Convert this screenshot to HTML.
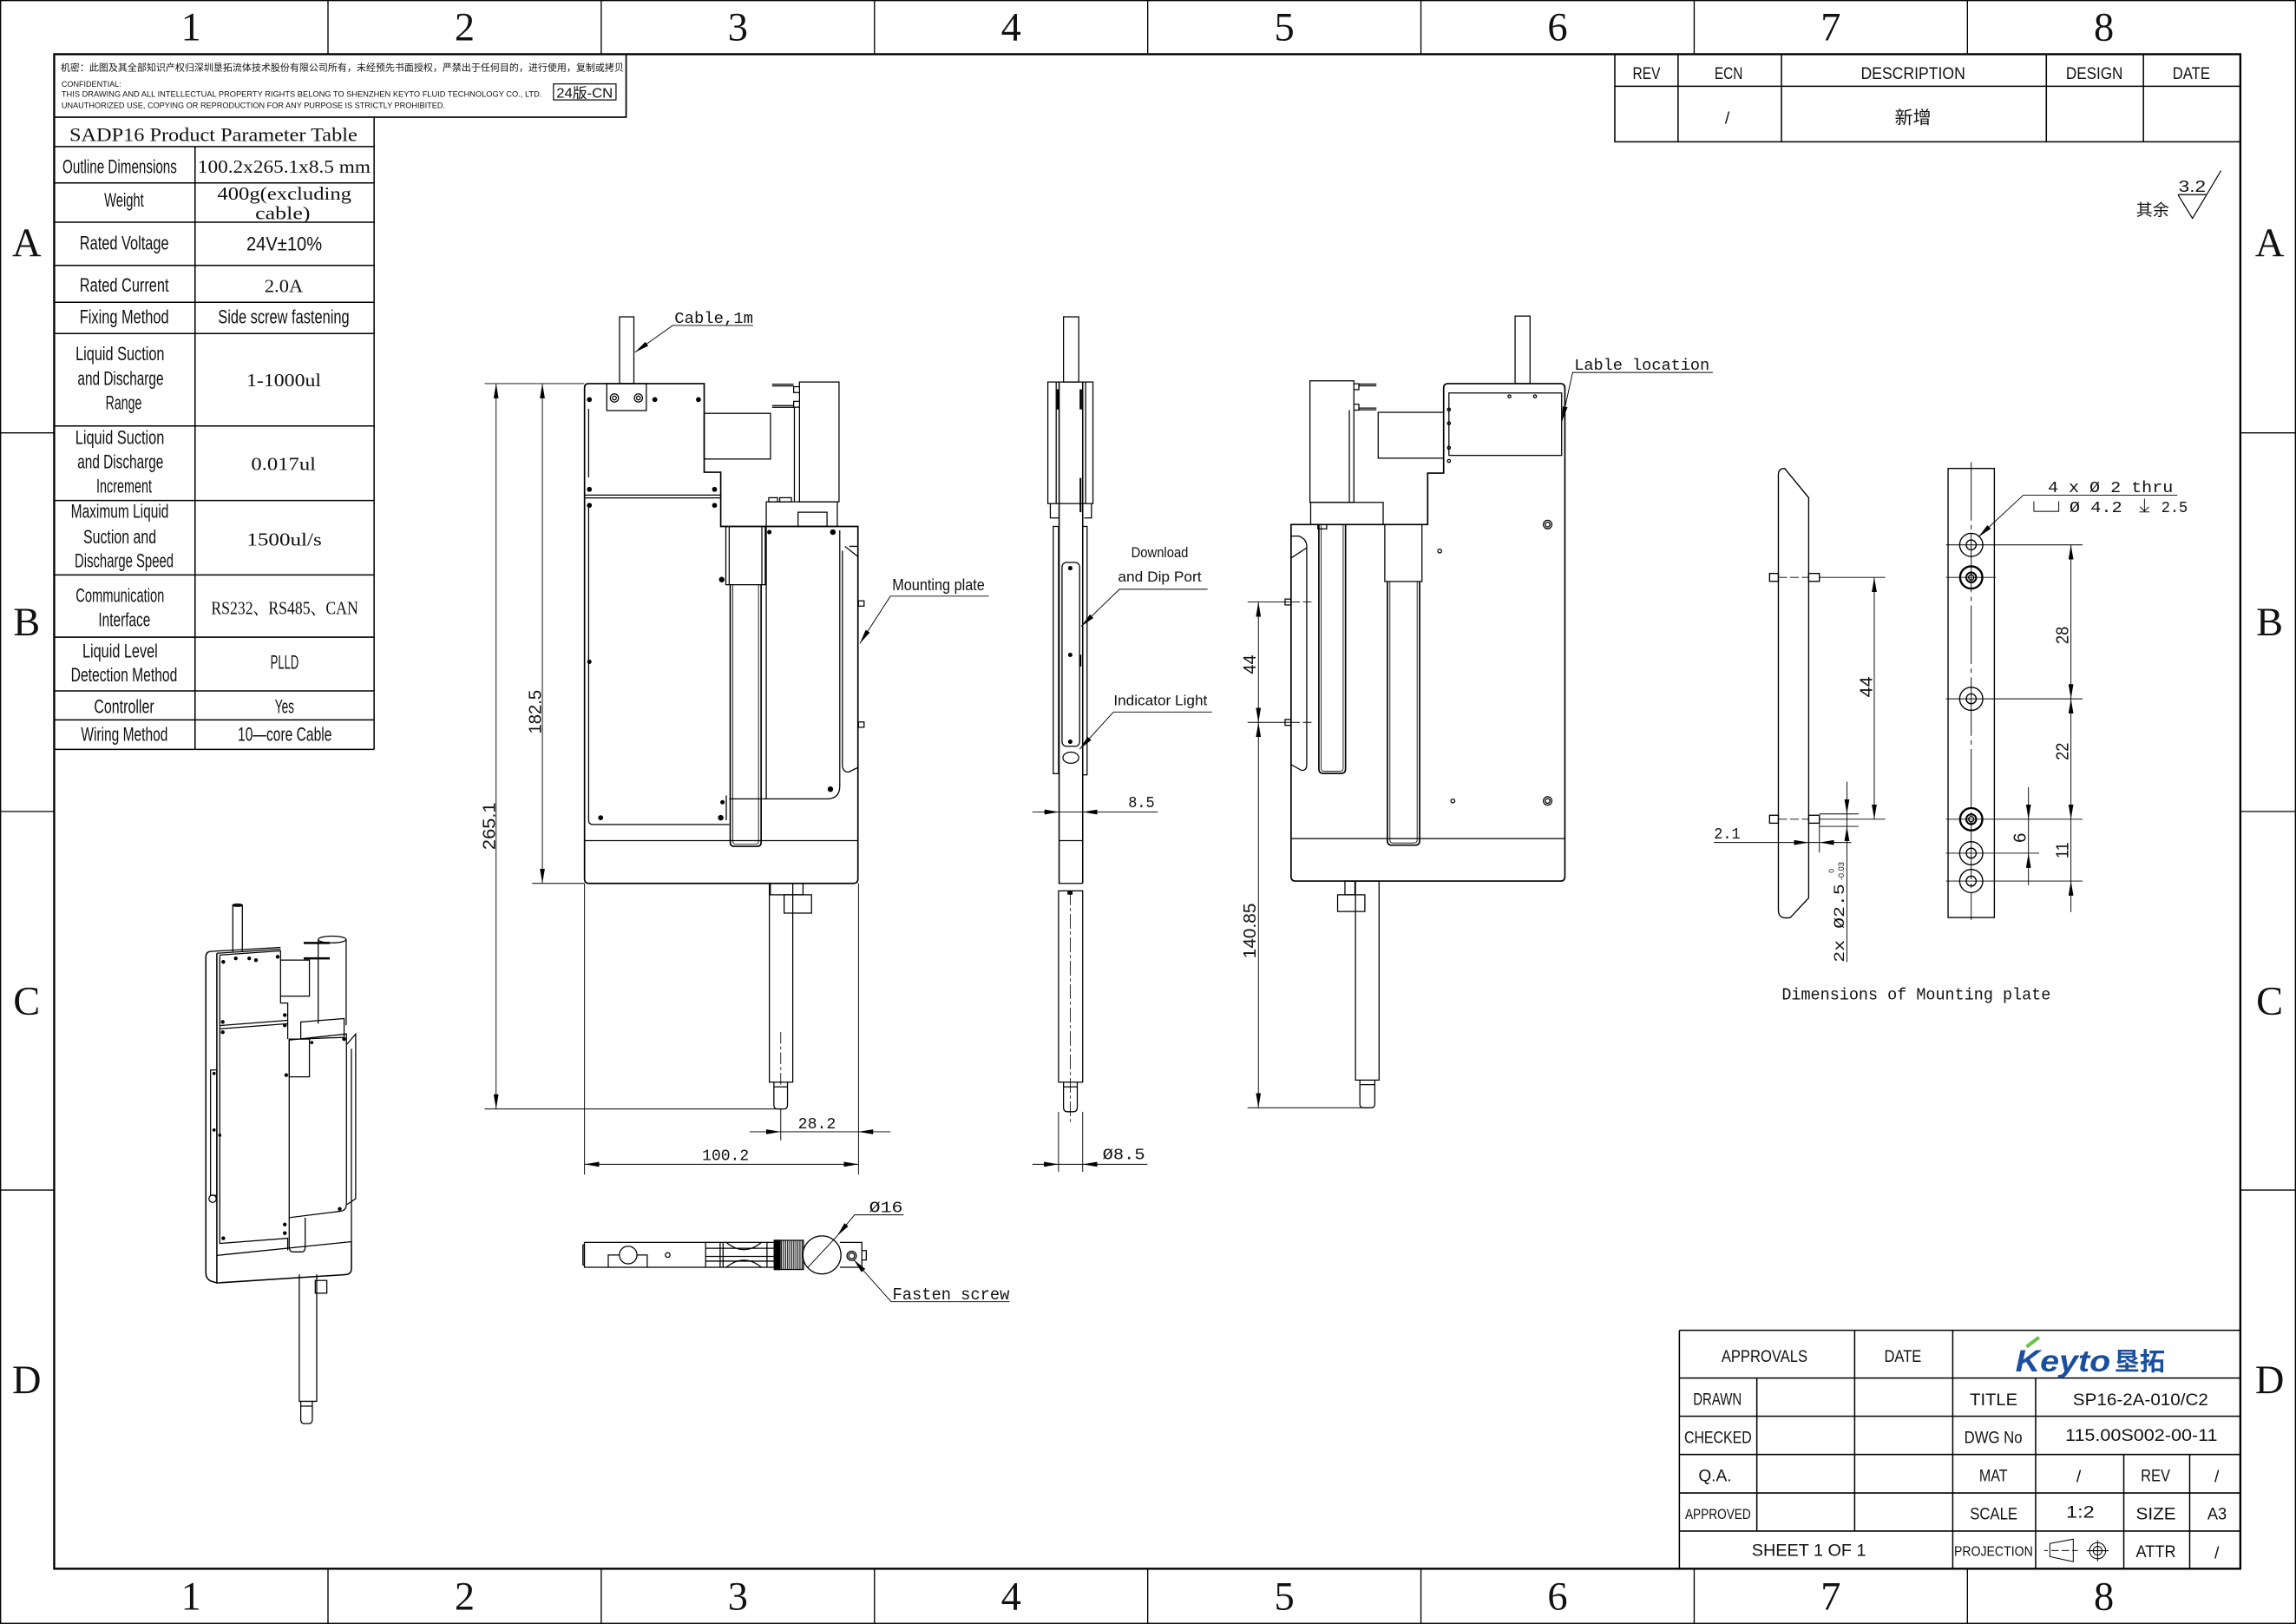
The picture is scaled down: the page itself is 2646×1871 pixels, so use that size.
<!DOCTYPE html>
<html><head><meta charset="utf-8"><style>
html,body{margin:0;padding:0;background:#fff;}
svg{display:block;}
.s{font-family:"Liberation Sans","Noto Sans CJK SC",sans-serif;}
.m{font-family:"Liberation Mono","Noto Sans CJK SC",monospace;}
.r{font-family:"Liberation Serif","Noto Serif CJK SC",serif;}
text{fill:#111;}
</style></head><body>
<svg xmlns="http://www.w3.org/2000/svg" width="2646" height="1871" viewBox="0 0 1568 1108.74" preserveAspectRatio="none">
<defs>
<marker id="a" markerUnits="userSpaceOnUse" markerWidth="10" markerHeight="3.4" refX="10" refY="1.7" orient="auto-start-reverse"><path d="M0,0L10,1.7L0,3.4z" fill="#000"/></marker>
<pattern id="kn" width="1.4" height="4" patternUnits="userSpaceOnUse"><rect width="0.65" height="4" fill="#000"/></pattern>
</defs>
<rect width="1568" height="1108.74" fill="#fff"/>

<!-- FRAME -->
<g fill="none" stroke="#000">
<rect x="0.4" y="0.4" width="1567.2" height="1107.9" stroke-width="0.8"/>
<rect x="37" y="37" width="1493" height="1034" stroke-width="1.4"/>
<path stroke-width="0.8" d="M224,0V37M410.6,0V37M597.2,0V37M783.8,0V37M970.4,0V37M1157,0V37M1343.6,0V37M224,1071V1108.7M410.6,1071V1108.7M597.2,1071V1108.7M783.8,1071V1108.7M970.4,1071V1108.7M1157,1071V1108.7M1343.6,1071V1108.7M0,295.5H37M0,554H37M0,812.5H37M1530,295.5H1568M1530,554H1568M1530,812.5H1568"/>
</g>
<g class="r" font-size="27.5" text-anchor="middle">
<text x="130.5" y="27.7">1</text><text x="317.3" y="27.7">2</text><text x="503.9" y="27.7">3</text><text x="690.5" y="27.7">4</text><text x="877.1" y="27.7">5</text><text x="1063.7" y="27.7">6</text><text x="1250.3" y="27.7">7</text><text x="1436.8" y="27.7">8</text>
<text x="130.5" y="1099">1</text><text x="317.3" y="1099">2</text><text x="503.9" y="1099">3</text><text x="690.5" y="1099">4</text><text x="877.1" y="1099">5</text><text x="1063.7" y="1099">6</text><text x="1250.3" y="1099">7</text><text x="1436.8" y="1099">8</text>
<text x="18.2" y="174.8">A</text><text x="18.2" y="433.8">B</text><text x="18.2" y="692.3">C</text><text x="18.2" y="951">D</text>
<text x="1550" y="174.8">A</text><text x="1550" y="433.8">B</text><text x="1550" y="692.3">C</text><text x="1550" y="951">D</text>
</g>

<!-- CONFIDENTIAL BOX -->
<rect x="37" y="37" width="390.6" height="43" fill="none" stroke="#000" stroke-width="1"/>
<text x="41.4" y="48.4" class="s" font-size="6.4" textLength="384.6" lengthAdjust="spacingAndGlyphs">机密：此图及其全部知识产权归深圳垦拓流体技术股份有限公司所有，未经预先书面授权，严禁出于任何目的，进行使用，复制或拷贝</text>
<text x="42" y="59.3" class="s" font-size="5.6" textLength="40.8" lengthAdjust="spacingAndGlyphs">CONFIDENTIAL:</text>
<text x="42" y="66.2" class="s" font-size="5.6" textLength="328" lengthAdjust="spacingAndGlyphs">THIS DRAWING AND ALL INTELLECTUAL PROPERTY RIGHTS BELONG TO SHENZHEN KEYTO FLUID TECHNOLOGY CO., LTD.</text>
<text x="42" y="73.7" class="s" font-size="5.6" textLength="262" lengthAdjust="spacingAndGlyphs">UNAUTHORIZED USE, COPYING OR REPRODUCTION FOR ANY PURPOSE IS STRICTLY PROHIBITED.</text>
<rect x="378" y="57.3" width="42.7" height="10.9" fill="none" stroke="#000" stroke-width="0.7"/>
<text x="380" y="66.8" class="s" font-size="9.5" textLength="38.5" lengthAdjust="spacingAndGlyphs">24版-CN</text>

<!-- PARAMETER TABLE -->
<g fill="none" stroke="#000" stroke-width="0.9">
<path d="M37,100.1H255.5M37,124.9H255.5M37,151.7H255.5M37,181.2H255.5M37,206.4H255.5M37,227.7H255.5M37,290.8H255.5M37,341.7H255.5M37,392.5H255.5M37,435H255.5M37,471.7H255.5M37,491.5H255.5M37,511.6H255.5M255.5,80V511.6M133.2,100.1V511.6"/>
</g>
<text x="47.4" y="96.4" class="r" font-size="13" textLength="196.6" lengthAdjust="spacingAndGlyphs">SADP16 Product Parameter Table</text>
<g class="s" font-size="13.2">
<text x="42.7" y="118.1" textLength="78.1" lengthAdjust="spacingAndGlyphs">Outline Dimensions</text>
<text x="71.2" y="141" textLength="27" lengthAdjust="spacingAndGlyphs">Weight</text>
<text x="54.4" y="170.3" textLength="60.9" lengthAdjust="spacingAndGlyphs">Rated Voltage</text>
<text x="54.4" y="199.1" textLength="60.9" lengthAdjust="spacingAndGlyphs">Rated Current</text>
<text x="54.4" y="220.8" textLength="60.9" lengthAdjust="spacingAndGlyphs">Fixing Method</text>
<text x="51.6" y="245.9" textLength="60.7" lengthAdjust="spacingAndGlyphs">Liquid Suction</text>
<text x="53" y="262.7" textLength="58.7" lengthAdjust="spacingAndGlyphs">and Discharge</text>
<text x="72.1" y="279.5" textLength="24.7" lengthAdjust="spacingAndGlyphs">Range</text>
<text x="51.4" y="303.2" textLength="60.8" lengthAdjust="spacingAndGlyphs">Liquid Suction</text>
<text x="52.9" y="319.6" textLength="58.7" lengthAdjust="spacingAndGlyphs">and Discharge</text>
<text x="65.8" y="336.4" textLength="37.9" lengthAdjust="spacingAndGlyphs">Increment</text>
<text x="48.4" y="353.6" textLength="66.8" lengthAdjust="spacingAndGlyphs">Maximum Liquid</text>
<text x="56.9" y="371" textLength="49.8" lengthAdjust="spacingAndGlyphs">Suction and</text>
<text x="51" y="387.2" textLength="67.5" lengthAdjust="spacingAndGlyphs">Discharge Speed</text>
<text x="51.7" y="410.9" textLength="60.5" lengthAdjust="spacingAndGlyphs">Communication</text>
<text x="67.2" y="427.7" textLength="35.5" lengthAdjust="spacingAndGlyphs">Interface</text>
<text x="56.3" y="448.8" textLength="51.4" lengthAdjust="spacingAndGlyphs">Liquid Level</text>
<text x="48.4" y="465.2" textLength="72.7" lengthAdjust="spacingAndGlyphs">Detection Method</text>
<text x="64.2" y="486.9" textLength="41.1" lengthAdjust="spacingAndGlyphs">Controller</text>
<text x="55.3" y="505.7" textLength="59.3" lengthAdjust="spacingAndGlyphs">Wiring Method</text>
<text x="168.3" y="170.9" textLength="51.6" lengthAdjust="spacingAndGlyphs">24V±10%</text>
<text x="148.9" y="220.8" textLength="89.7" lengthAdjust="spacingAndGlyphs">Side screw fastening</text>
<text x="184.7" y="456.7" textLength="19.3" lengthAdjust="spacingAndGlyphs">PLLD</text>
<text x="187.7" y="486.9" textLength="13.2" lengthAdjust="spacingAndGlyphs">Yes</text>
<text x="162.4" y="505.7" textLength="64.2" lengthAdjust="spacingAndGlyphs">10—core Cable</text>
</g>
<g class="r" font-size="12.8">
<text x="135" y="118" textLength="118" lengthAdjust="spacingAndGlyphs">100.2x265.1x8.5 mm</text>
<text x="148.4" y="136.3" textLength="91.6" lengthAdjust="spacingAndGlyphs">400g(excluding</text>
<text x="174.3" y="149.5" textLength="37.6" lengthAdjust="spacingAndGlyphs">cable)</text>
<text x="180.7" y="199.5" textLength="26.2" lengthAdjust="spacingAndGlyphs">2.0A</text>
<text x="168.3" y="263.7" textLength="51" lengthAdjust="spacingAndGlyphs">1-1000ul</text>
<text x="171.5" y="321" textLength="44.2" lengthAdjust="spacingAndGlyphs">0.017ul</text>
<text x="168.5" y="372.3" textLength="51.2" lengthAdjust="spacingAndGlyphs">1500ul/s</text>
<text x="144.2" y="419.4" textLength="100.4" lengthAdjust="spacingAndGlyphs">RS232、RS485、CAN</text>
</g>

<!-- REVISION TABLE -->
<g fill="none" stroke="#000" stroke-width="0.9">
<path d="M1102.8,37V96.8H1530M1102.8,58.9H1530M1146,37V96.8M1216.6,37V96.8M1397.5,37V96.8M1463.8,37V96.8"/>
</g>
<g class="s" font-size="11.5">
<text x="1115" y="53.9" textLength="18.9" lengthAdjust="spacingAndGlyphs">REV</text>
<text x="1170.9" y="53.9" textLength="19.2" lengthAdjust="spacingAndGlyphs">ECN</text>
<text x="1270.8" y="53.9" textLength="71.3" lengthAdjust="spacingAndGlyphs">DESCRIPTION</text>
<text x="1410.9" y="53.9" textLength="38.8" lengthAdjust="spacingAndGlyphs">DESIGN</text>
<text x="1483.7" y="53.9" textLength="25.6" lengthAdjust="spacingAndGlyphs">DATE</text>
<text x="1178" y="84.3">/</text>
<text x="1293.9" y="84.3" font-size="12" textLength="25" lengthAdjust="spacingAndGlyphs">新增</text>
</g>
<!-- roughness -->
<path d="M1487.4,132.9H1507M1487.4,132.9L1497.3,149.1L1516.8,116.5" fill="none" stroke="#000" stroke-width="0.7"/>
<text x="1487.8" y="131" class="s" font-size="11" textLength="18.6" lengthAdjust="spacingAndGlyphs">3.2</text>
<text x="1458.8" y="147.2" class="s" font-size="11" textLength="22.5" lengthAdjust="spacingAndGlyphs">其余</text>

<!-- TITLE BLOCK -->
<g fill="none" stroke="#000" stroke-width="0.9">
<path d="M1146.9,908.2H1530M1146.9,940.8H1530M1146.9,966.9H1530M1146.9,993H1530M1146.9,1019.3H1530M1146.9,1045.3H1530M1146.9,908.2V1071M1199.8,940.8V1045.3M1266.6,908.2V1045.3M1333.6,908.2V1071M1390.2,940.8V1071M1450.4,993V1071M1495.4,993V1071"/>
</g>
<g class="s" font-size="11.5">
<text x="1175.6" y="929.9" textLength="58.8" lengthAdjust="spacingAndGlyphs">APPROVALS</text>
<text x="1286.8" y="929.9" textLength="25.4" lengthAdjust="spacingAndGlyphs">DATE</text>
<text x="1156.3" y="959" textLength="33.1" lengthAdjust="spacingAndGlyphs">DRAWN</text>
<text x="1150.2" y="985.2" textLength="46.1" lengthAdjust="spacingAndGlyphs">CHECKED</text>
<text x="1159.9" y="1011.3" textLength="22.6" lengthAdjust="spacingAndGlyphs">Q.A.</text>
<text x="1150.8" y="1037" font-size="10" textLength="44.9" lengthAdjust="spacingAndGlyphs">APPROVED</text>
<text x="1196.3" y="1062.3" textLength="78.1" lengthAdjust="spacingAndGlyphs">SHEET 1 OF 1</text>
<text x="1345.3" y="959.4" textLength="32.5" lengthAdjust="spacingAndGlyphs">TITLE</text>
<text x="1341.4" y="985.2" textLength="39.7" lengthAdjust="spacingAndGlyphs">DWG No</text>
<text x="1351.6" y="1011.3" textLength="19.4" lengthAdjust="spacingAndGlyphs">MAT</text>
<text x="1345.3" y="1037.4" textLength="32.5" lengthAdjust="spacingAndGlyphs">SCALE</text>
<text x="1334.5" y="1062.3" font-size="9.5" textLength="53.8" lengthAdjust="spacingAndGlyphs">PROJECTION</text>
<text x="1415.6" y="959.4" textLength="92.5" lengthAdjust="spacingAndGlyphs">SP16-2A-010/C2</text>
<text x="1410.4" y="983.8" textLength="104" lengthAdjust="spacingAndGlyphs">115.00S002-00-11</text>
<text x="1418" y="1011.8">/</text>
<text x="1462" y="1011.3" textLength="20.1" lengthAdjust="spacingAndGlyphs">REV</text>
<text x="1512.3" y="1011.8">/</text>
<text x="1411" y="1036" textLength="19.3" lengthAdjust="spacingAndGlyphs">1:2</text>
<text x="1458.7" y="1037.4" textLength="27.3" lengthAdjust="spacingAndGlyphs">SIZE</text>
<text x="1507.5" y="1037.4" textLength="13.2" lengthAdjust="spacingAndGlyphs">A3</text>
<text x="1458.7" y="1063" textLength="27.3" lengthAdjust="spacingAndGlyphs">ATTR</text>
<text x="1512.3" y="1064">/</text>
</g>
<g fill="none" stroke="#000" stroke-width="0.6">
<path d="M1399.9,1053.8L1415.9,1050.8V1066.2L1399.9,1062.7Z"/>
<path d="M1396,1058.6H1398.5M1401,1058.6H1406M1408,1058.6H1413M1415,1058.6H1419" />
<circle cx="1432.5" cy="1058.7" r="5.5"/><circle cx="1432.5" cy="1058.7" r="3"/>
<path d="M1425,1058.7H1440M1432.5,1051.5V1066"/>
</g>
<text x="1376.4" y="936.3" font-family="Liberation Sans,sans-serif" font-weight="bold" font-style="italic" font-size="21" style="fill:#1b4f9c" textLength="64.9" lengthAdjust="spacingAndGlyphs">Keyto</text>
<text x="1444" y="935.5" font-family="'Noto Sans CJK SC',sans-serif" font-weight="bold" font-size="17" style="fill:#1b4f9c" textLength="34.5" lengthAdjust="spacingAndGlyphs">垦拓</text>
<path d="M1384,919.5L1392.5,913" stroke="#6cbf4a" stroke-width="2.4" fill="none"/>

<!-- FRONT VIEW -->
<g fill="none" stroke="#000" stroke-width="0.75">
<rect x="423.1" y="216.3" width="9.8" height="45.6"/>
<rect x="414.4" y="261.9" width="27" height="18.4"/>
<circle cx="419.6" cy="271.7" r="2.8"/><circle cx="419.6" cy="271.7" r="1.3"/>
<circle cx="436" cy="271.7" r="2.8"/><circle cx="436" cy="271.7" r="1.3"/>
<path stroke-width="1" d="M402,261.9H480.9V322.4H492.2V359.4H585.9V600.1Q585.9,603.1 582.9,603.1H402.2Q399.2,603.1 399.2,600.1V264.9Q399.2,261.9 402,261.9Z"/>
<path d="M585.9,359.4V373H580"/>
<path d="M399.2,573.9H585.9M399.2,339.9H492.2M399.2,338H492.2"/>
<path d="M402,279V326M402,344V560Q402,562.9 405,562.9H498"/>
<rect x="480.9" y="282.2" width="45.3" height="31.2"/>
<rect x="546" y="260.8" width="27" height="81.8"/>
<path d="M546,264H542V268H546M546,274H542V278H546"/>
<path d="M527.3,262.3H542M527.3,263.5H542M527.3,276.9H542M527.3,278.1H542M542.5,278V342.6"/>
<rect x="523.3" y="342.6" width="48.5" height="16.8"/>
<rect x="525" y="339.8" width="6" height="2.8"/><rect x="532.5" y="339.8" width="8" height="2.8"/>
<rect x="545" y="349.7" width="19.8" height="9.7"/>
<rect x="495.7" y="359.4" width="26.9" height="39.8"/>
<path d="M498,359.4V399.2M520.3,359.4V399.2"/>
<path stroke-width="1" d="M498.7,399.2V575Q498.7,577.8 501.5,577.8H517Q519.8,577.8 519.8,575V399.2"/>
<path stroke-width="0.5" d="M500.5,399.2V574.5Q500.5,576.3 502.5,576.3H516Q518,576.3 518,574.5V399.2"/>
<path d="M523.3,359.4V545.4H564.8Q573.5,545.4 573.5,536.7V362M498,545.4H523.3M496,543V560"/>
<path d="M577,373L585.9,380M575.3,376V522Q575.3,527.1 579.5,527.1L585.9,524"/>
<rect x="586.3" y="410.2" width="3.8" height="3.6"/><rect x="586.3" y="492.9" width="3.8" height="3.6"/>
<rect x="525.4" y="603.1" width="16" height="135.7"/>
<rect x="526.1" y="603.1" width="22.3" height="7.8"/>
<rect x="535.5" y="610.9" width="18.7" height="12.5"/>
<path d="M528.5,738.8V754.5Q528.5,757.1 531,757.1H535.3Q537.8,757.1 537.8,754.5V738.8M528.5,742H537.8"/>
<path stroke-width="0.5" stroke-dasharray="8 2 2 2" d="M533.2,704.5V742"/>
</g>
<g fill="#000">
<circle cx="402.5" cy="272.8" r="1.7"/><circle cx="447.2" cy="272.8" r="1.7"/><circle cx="477" cy="272.8" r="1.7"/><circle cx="402.5" cy="334.1" r="1.7"/><circle cx="488" cy="334.1" r="1.7"/><circle cx="402.5" cy="345" r="1.7"/><circle cx="488" cy="345" r="1.7"/><circle cx="492.9" cy="395.7" r="1.9"/><circle cx="402.5" cy="451.8" r="1.5"/><circle cx="493.4" cy="547.7" r="1.5"/><circle cx="410.2" cy="558.3" r="1.7"/><circle cx="492.2" cy="558.3" r="1.9"/><circle cx="525.4" cy="363.3" r="1.5"/><circle cx="568.8" cy="363.3" r="1.9"/><circle cx="567.1" cy="538.8" r="1.9"/>
</g>
<g fill="none" stroke="#000" stroke-width="0.55">
<path d="M331,261.9H399M331,757.1H534M363.4,603.1H399M399.2,603.1V801.9M586.3,603.1V801.9M533.2,757.1V778.6M533.2,772.7H586.3"/>
<line x1="338.8" y1="261.9" x2="338.8" y2="757.1" marker-start="url(#a)" marker-end="url(#a)"/>
<line x1="370.4" y1="261.9" x2="370.4" y2="603.1" marker-start="url(#a)" marker-end="url(#a)"/>
<line x1="399.2" y1="794.9" x2="586.3" y2="794.9" marker-start="url(#a)" marker-end="url(#a)"/>
<line x1="512" y1="772.7" x2="533.2" y2="772.7" marker-end="url(#a)"/>
<line x1="608.1" y1="772.7" x2="586.3" y2="772.7" marker-end="url(#a)"/>
<path d="M514.4,222.2H459.4L433.6,240.5" marker-end="url(#a)"/>
<path d="M675.3,407H608.1L587.2,439.3" marker-end="url(#a)"/>
</g>
<text transform="translate(338.2,564) rotate(-90)" class="s" font-size="12" text-anchor="middle" textLength="32.4" lengthAdjust="spacingAndGlyphs">265.1</text>
<text transform="translate(369.6,486) rotate(-90)" class="s" font-size="12" text-anchor="middle" textLength="30" lengthAdjust="spacingAndGlyphs">182.5</text>
<text x="479.5" y="792" class="m" font-size="11" textLength="32" lengthAdjust="spacingAndGlyphs">100.2</text>
<text x="545" y="770.5" class="m" font-size="11" textLength="25.8" lengthAdjust="spacingAndGlyphs">28.2</text>
<text x="460.6" y="220.5" class="m" font-size="11" textLength="53.8" lengthAdjust="spacingAndGlyphs">Cable,1m</text>
<text x="609.3" y="403" class="s" font-size="11" textLength="63.2" lengthAdjust="spacingAndGlyphs">Mounting plate</text>

<!-- SIDE VIEW -->
<g fill="none" stroke="#000" stroke-width="0.75">
<rect x="726.3" y="216.3" width="10.4" height="44.5"/>
<rect x="715.6" y="260.8" width="30.8" height="83"/>
<path d="M721.3,260.8V343.8M741.4,260.8V343.8M717.3,343.8V353.6H722.9M740.4,353.6H745.4V343.8"/>
<path stroke-width="0.9" d="M723.3,260.8V603.1M739.4,260.8V603.1"/>
<rect x="719.3" y="359.4" width="3.6" height="168.8"/>
<rect x="739.4" y="359.4" width="3" height="169.6"/>
<rect x="725.3" y="384" width="12" height="125.5" rx="3"/>
<ellipse cx="731.3" cy="517.3" rx="5.4" ry="3.8"/>
<path d="M723.3,573.9H739.4M722.9,603.1H739.4"/>
<rect x="722.9" y="608.2" width="16.5" height="130.6"/>
<path d="M726.3,738.8V756Q726.3,759 729,759H733Q735.7,759 735.7,756V738.8M726.3,742H735.7"/>
<path stroke-width="0.5" stroke-dasharray="10 2 2 2" d="M730.9,608V766.8"/>
</g>
<g fill="#000">
<circle cx="730.9" cy="387.9" r="1.5"/><circle cx="730.9" cy="447.1" r="1.5"/><circle cx="730.9" cy="506.4" r="1.5"/>
<rect x="737.3" y="326.3" width="1.2" height="23.4"/><rect x="737.3" y="447" width="1.2" height="8"/><rect x="737.3" y="265.8" width="1.6" height="13.7"/><rect x="721.6" y="265.8" width="1.6" height="13.7"/>
<rect x="729" y="608.2" width="3.5" height="2.6"/>
</g>
<g fill="none" stroke="#000" stroke-width="0.55">
<line x1="705" y1="554.4" x2="723.3" y2="554.4" marker-end="url(#a)"/>
<line x1="790.6" y1="554.4" x2="739.4" y2="554.4" marker-end="url(#a)"/>
<line x1="723.3" y1="554.4" x2="739.4" y2="554.4"/>
<path d="M722.9,759V800M739.4,759V800M722.9,794.9H739.4"/>
<line x1="705" y1="794.9" x2="722.9" y2="794.9" marker-end="url(#a)"/>
<line x1="783.6" y1="794.9" x2="739.4" y2="794.9" marker-end="url(#a)"/>
<path d="M824.7,402.3H764.5L738.4,427.6" marker-end="url(#a)"/>
<path d="M827.7,486.1H760.4L737.3,511.5" marker-end="url(#a)"/>
</g>
<text x="770.5" y="551.2" class="m" font-size="11" textLength="18" lengthAdjust="spacingAndGlyphs">8.5</text>
<text x="753" y="791.5" class="m" font-size="11" textLength="29" lengthAdjust="spacingAndGlyphs">Ø8.5</text>
<text x="772.5" y="380.5" class="s" font-size="10" textLength="39" lengthAdjust="spacingAndGlyphs">Download</text>
<text x="763.5" y="397" class="s" font-size="10" textLength="57" lengthAdjust="spacingAndGlyphs">and Dip Port</text>
<text x="760.5" y="481.5" class="s" font-size="10" textLength="64" lengthAdjust="spacingAndGlyphs">Indicator Light</text>

<!-- BACK VIEW -->
<g fill="none" stroke="#000" stroke-width="0.75">
<rect x="1034.7" y="215.8" width="10.2" height="46.1"/>
<path stroke-width="1" d="M985.9,323V264.9Q985.9,261.9 989,261.9H1065.7Q1068.7,261.9 1068.7,265V598.5Q1068.7,601.5 1065.7,601.5H884.7Q881.7,601.5 881.7,598.5V358.1H975V323Z"/>
<path d="M881.7,572.5H1068.7"/>
<rect x="989.5" y="268.3" width="77" height="42.6"/>
<rect x="941.2" y="281.5" width="44.7" height="31.3"/>
<rect x="894.6" y="260" width="30" height="83"/>
<path d="M924.6,262H928V266H924.6M924.6,276H928V280H924.6M928,262.2H940M928,263.4H940M928,278.6H940M928,279.8H940M921.5,280V343"/>
<rect x="895.1" y="343" width="49.5" height="15.1"/>
<rect x="900" y="358.1" width="6" height="3"/>
<rect x="945.7" y="358.1" width="25.4" height="38.9"/>
<path stroke-width="1" d="M947.5,397V574Q947.5,577 950.5,577H966.5Q969.5,577 969.5,574V397"/>
<path stroke-width="0.5" d="M949.2,397V573.5Q949.2,575.5 951.2,575.5H965.8Q967.8,575.5 967.8,573.5V397"/>
<path stroke-width="1" d="M900.7,358.1V525Q900.7,528 903.7,528H915.9Q918.9,528 918.9,525V358.1"/>
<path stroke-width="0.5" d="M902.3,358.1V524.5Q902.3,526.5 904.3,526.5H915.3Q917.3,526.5 917.3,524.5V358.1"/>
<path d="M881.7,366H887Q892.4,368 892.4,373V374M892.4,374L881.7,381M892.4,374V522Q892.4,526 889,526L881.7,522"/>
<rect x="877.6" y="409" width="4.1" height="4"/><rect x="877.6" y="491.2" width="4.1" height="4"/>
<circle cx="1056.9" cy="358.1" r="2.9"/><circle cx="1056.9" cy="358.1" r="1.6"/>
<circle cx="1056.9" cy="546.8" r="2.9"/><circle cx="1056.9" cy="546.8" r="1.6"/>
<circle cx="983.2" cy="376.2" r="1.3"/><circle cx="992.2" cy="546.8" r="1.3"/>
<circle cx="1030.8" cy="270.6" r="1"/><circle cx="1048.3" cy="270.6" r="1"/>
<circle cx="989.5" cy="279.6" r="1"/><circle cx="989.5" cy="289" r="1"/><circle cx="989.5" cy="305.7" r="1"/><circle cx="989.5" cy="314.7" r="1"/>
<rect x="925.7" y="601.5" width="16.1" height="135.9"/>
<path d="M928.7,737.4V753.8Q928.7,756.3 931.2,756.3H936.4Q938.9,756.3 938.9,753.8V737.4M928.7,740.5H938.9"/>
<rect x="913.5" y="610.9" width="18.6" height="11.4"/>
<rect x="918.5" y="601.5" width="6.8" height="9.4"/>
</g>
<g fill="none" stroke="#000" stroke-width="0.55">
<path d="M852,411H881.7M852,493.2H881.7M852,756.3H937.8"/>
<path stroke-dasharray="6 2" d="M881.7,411H896.4M881.7,493.2H896.4"/>
<line x1="859.4" y1="411" x2="859.4" y2="493.2" marker-start="url(#a)" marker-end="url(#a)"/>
<line x1="859.4" y1="493.2" x2="859.4" y2="756.3" marker-start="url(#a)" marker-end="url(#a)"/>
<path d="M1169.7,254.3H1074L1066.7,287.5" marker-end="url(#a)"/>
</g>
<text transform="translate(857.5,453.6) rotate(-90)" class="s" font-size="12" text-anchor="middle" textLength="13.2" lengthAdjust="spacingAndGlyphs">44</text>
<text transform="translate(857.5,635.5) rotate(-90)" class="s" font-size="12" text-anchor="middle" textLength="37.7" lengthAdjust="spacingAndGlyphs">140.85</text>
<text x="1075.1" y="252.5" class="m" font-size="11" textLength="92.4" lengthAdjust="spacingAndGlyphs">Lable location</text>

<!-- MOUNTING PLATE VIEWS -->
<g fill="none" stroke="#000" stroke-width="0.8">
<path d="M1214.5,324Q1214.5,319.8 1218.8,319.8L1235.2,339.8V613L1222.7,626.4Q1214.5,628 1214.5,621.5Z"/>
<rect x="1208.5" y="391.5" width="6" height="5.4"/><rect x="1235.2" y="391.5" width="7.3" height="5.4"/>
<rect x="1208.5" y="556.6" width="6" height="5.4"/><rect x="1235.2" y="556.6" width="7.3" height="5.4"/>
<rect x="1330.4" y="319.8" width="31.6" height="306.6"/>
<circle cx="1346.2" cy="372" r="7.9"/><circle cx="1346.2" cy="372" r="3.4"/>
<circle cx="1346.2" cy="394.2" r="7.6" stroke-width="1.4"/><circle cx="1346.2" cy="394.2" r="3.4" stroke-width="1.2"/><circle cx="1346.2" cy="394.2" r="1.8"/>
<circle cx="1346.2" cy="477.1" r="7.9"/><circle cx="1346.2" cy="477.1" r="3.4"/>
<circle cx="1346.2" cy="559.3" r="7.6" stroke-width="1.4"/><circle cx="1346.2" cy="559.3" r="3.4" stroke-width="1.2"/><circle cx="1346.2" cy="559.3" r="1.8"/>
<circle cx="1346.2" cy="582.5" r="7.9"/><circle cx="1346.2" cy="582.5" r="3.4"/>
<circle cx="1346.2" cy="601.5" r="7.9"/><circle cx="1346.2" cy="601.5" r="3.4"/>
</g>
<g fill="none" stroke="#000" stroke-width="0.55">
<path stroke-dasharray="6 2" d="M1214.5,394.2H1235.2M1214.5,559.3H1235.2"/>
<path d="M1242.5,394.2H1287.5M1242.5,559.3H1287.5M1242.5,555.7H1269.2M1242.5,564.2H1269.2M1242.5,562V582M1235.2,575.2H1242.5"/>
<line x1="1280" y1="394.2" x2="1280" y2="559.3" marker-start="url(#a)" marker-end="url(#a)"/>
<line x1="1170.4" y1="575.2" x2="1235.2" y2="575.2" marker-end="url(#a)"/>
<line x1="1264.2" y1="575.2" x2="1242.5" y2="575.2" marker-end="url(#a)"/>
<line x1="1261.3" y1="533.7" x2="1261.3" y2="555.7" marker-end="url(#a)"/>
<line x1="1261.3" y1="656.9" x2="1261.3" y2="564.2" marker-end="url(#a)"/>
<line x1="1261.3" y1="555.7" x2="1261.3" y2="564.2"/>
<path stroke-dasharray="40 3 3 3" d="M1346.2,315.4V628"/>
<path d="M1329,372H1422.2M1329,394.2H1363M1329,477.1H1422.2M1329,559.3H1422.2M1329,582.5H1392.6M1329,601.5H1422.2"/>
<line x1="1414.3" y1="372" x2="1414.3" y2="477.1" marker-start="url(#a)" marker-end="url(#a)"/>
<line x1="1414.3" y1="477.1" x2="1414.3" y2="559.3" marker-start="url(#a)" marker-end="url(#a)"/>
<line x1="1414.3" y1="559.3" x2="1414.3" y2="601.5"/>
<line x1="1414.3" y1="622.7" x2="1414.3" y2="601.5" marker-end="url(#a)"/>
<line x1="1385.3" y1="537.4" x2="1385.3" y2="559.3" marker-end="url(#a)"/>
<line x1="1385.3" y1="604.4" x2="1385.3" y2="582.5" marker-end="url(#a)"/>
<line x1="1385.3" y1="559.3" x2="1385.3" y2="582.5"/>
<path d="M1487,338.1H1381.7L1351.1,366.6" marker-end="url(#a)"/>
<path d="M1389,342.2V349.1H1406V342.2"/>
<path d="M1464.5,340.5V349M1461.5,346L1464.5,349L1467.5,346M1461,349.5H1468"/>
</g>
<text transform="translate(1278.5,469) rotate(-90)" class="s" font-size="12" text-anchor="middle" textLength="14.2" lengthAdjust="spacingAndGlyphs">44</text>
<text transform="translate(1412.5,433.7) rotate(-90)" class="s" font-size="12" text-anchor="middle" textLength="12" lengthAdjust="spacingAndGlyphs">28</text>
<text transform="translate(1412.5,513) rotate(-90)" class="s" font-size="12" text-anchor="middle" textLength="12" lengthAdjust="spacingAndGlyphs">22</text>
<text transform="translate(1412.5,580.6) rotate(-90)" class="s" font-size="12" text-anchor="middle" textLength="11" lengthAdjust="spacingAndGlyphs">11</text>
<text transform="translate(1383.5,572) rotate(-90)" class="s" font-size="12" text-anchor="middle">6</text>
<text x="1170.5" y="572.5" class="m" font-size="11" textLength="18" lengthAdjust="spacingAndGlyphs">2.1</text>
<text transform="translate(1259.3,657) rotate(-90)" class="m" font-size="10.5" textLength="53.6" lengthAdjust="spacingAndGlyphs">2x Ø2.5</text>
<text transform="translate(1252.5,596) rotate(-90)" class="s" font-size="5">0</text>
<text transform="translate(1259.3,601) rotate(-90)" class="s" font-size="5.5">-0.03</text>
<text x="1398.5" y="336" class="m" font-size="11" textLength="85.5" lengthAdjust="spacingAndGlyphs">4 x Ø 2 thru</text>
<text x="1413.3" y="349.6" class="m" font-size="11" textLength="36" lengthAdjust="spacingAndGlyphs">Ø 4.2</text>
<text x="1476" y="349.6" class="m" font-size="11" textLength="18" lengthAdjust="spacingAndGlyphs">2.5</text>
<text x="1216.8" y="682.5" class="m" font-size="11.5" textLength="183.7" lengthAdjust="spacingAndGlyphs">Dimensions of Mounting plate</text>

<!-- TOP VIEW -->
<g fill="none" stroke="#000" stroke-width="0.75">
<rect x="399.1" y="848.2" width="129.7" height="17"/>
<rect x="398.1" y="850" width="1" height="13.5"/>
<path d="M415.4,865.2V856.8H423M435,856.8H442V865.2"/>
<circle cx="429" cy="856.8" r="6"/>
<circle cx="456" cy="856.8" r="1.6"/>
<path d="M481.9,848.2V865.2M491.8,848.2V865.2M493.8,848.2V865.2M523.8,848.2V865.2M481.9,852.2H528.8M481.9,857.8H528.8M481.9,861H528.8"/>
<path d="M496,848.2Q508,858 520,848.2M496,865.2Q508,855.5 520,865.2"/>
<rect x="528.8" y="846.8" width="19.9" height="19.9" fill="url(#kn)"/>
<rect x="528.8" y="846.8" width="4" height="19.9" fill="#000"/>
<circle cx="561.3" cy="856.8" r="13" fill="#fff"/>
<path d="M573.6,848.2H588.6V865.2H573.6M588.6,853.8H591.6V860.2H588.6"/>
<circle cx="581.6" cy="857.4" r="3.2"/><circle cx="581.6" cy="857.4" r="2"/>
</g>
<g fill="none" stroke="#000" stroke-width="0.55">
<path d="M551.5,865.5L571.7,843.8"/>
<path d="M617.1,829.4H583.6L571.7,843.8" marker-end="url(#a)"/>
<path d="M689.4,888.7H608.6L583,860" marker-end="url(#a)"/>
</g>
<text x="593.6" y="827.5" class="m" font-size="11" textLength="23" lengthAdjust="spacingAndGlyphs">Ø16</text>
<text x="609.5" y="887" class="m" font-size="11.5" textLength="79.9" lengthAdjust="spacingAndGlyphs">Fasten screw</text>

<!-- ISOMETRIC VIEW -->
<g fill="none" stroke="#000" stroke-width="0.75">
<path d="M159,649.6V618H165.5V649.6"/>
<ellipse cx="162.2" cy="618" rx="3.2" ry="0.8"/>
<path d="M143.2,649.6L191.6,646.8M148.1,650.8L191.6,648"/>
<path stroke-width="0.9" d="M143.2,649.6Q140.6,650.2 140.6,653V869Q140.6,873 144,874.6L148.1,875.9M148.1,650.8V875.9L236,870.2Q240,870 240,866V847.7"/>
<path d="M150.1,652L191.6,649.2V684.8H196.5V709.4M150.1,652V848.9L196.5,845.4V853.6"/>
<path d="M150.1,702.4L196.5,698.9M150.1,700.2L196.5,696.6"/>
<path d="M148.1,857.1L240,847.7"/>
<path d="M197.5,710.1L236.6,705.9V821.9Q236.6,826.6 232,827L197.5,831.3V710.1"/>
<path d="M237,712.9L242.9,705.9V818.4L237,822.3M240,716V847.7"/>
<path d="M217.3,641.4V698.9M236.4,641.4V700"/>
<ellipse cx="226.8" cy="641.4" rx="9.5" ry="2.3"/>
<path stroke-width="1.5" d="M207.4,643.8H225.2M207.4,654.3H225.2"/>
<path d="M205.4,697.7L235,695.4V708.2L205.4,709.4Z"/>
<path d="M191.6,655.5H211.3V680.1H191.6"/>
<path d="M197.5,709.4H211.3V735.2H197.5Z"/>
<path d="M197.5,831.3V851Q197.5,854.7 200,854.7H206Q208.4,854.7 208.4,851V831.3"/>
<path d="M204.4,870V956.7H216.3V870"/>
<path d="M205.4,956.7V969Q205.4,971.9 208,971.9H211Q213.3,971.9 213.3,969V956.7M205.4,960H213.3"/>
<rect x="215.3" y="874.2" width="7.9" height="8.7"/>
<rect x="143.8" y="730.5" width="4.3" height="85.6"/>
<circle cx="145.2" cy="818.4" r="2.5"/>
</g>
<g fill="#000">
<circle cx="152.5" cy="656.7" r="1.3"/><circle cx="161" cy="654.3" r="1.3"/><circle cx="170.2" cy="654.3" r="1.3"/><circle cx="174.8" cy="655.5" r="1.3"/><circle cx="189.6" cy="653.2" r="1.3"/><circle cx="152.1" cy="697.7" r="1.3"/><circle cx="194.5" cy="693" r="1.3"/><circle cx="194.5" cy="700" r="1.3"/><circle cx="152.1" cy="704.7" r="1.3"/><circle cx="195.5" cy="734" r="1.3"/><circle cx="212.9" cy="711.8" r="1.1"/><circle cx="235" cy="709.4" r="1.3"/><circle cx="150.1" cy="775" r="1.1"/><circle cx="146.2" cy="771.5" r="1.1"/><circle cx="146.2" cy="732.9" r="1.1"/><circle cx="232" cy="825.4" r="1.3"/><circle cx="194.5" cy="836" r="1.3"/><circle cx="194.5" cy="841.9" r="1.3"/><circle cx="152.5" cy="845.4" r="1.3"/>
</g>
</svg>
</body></html>
